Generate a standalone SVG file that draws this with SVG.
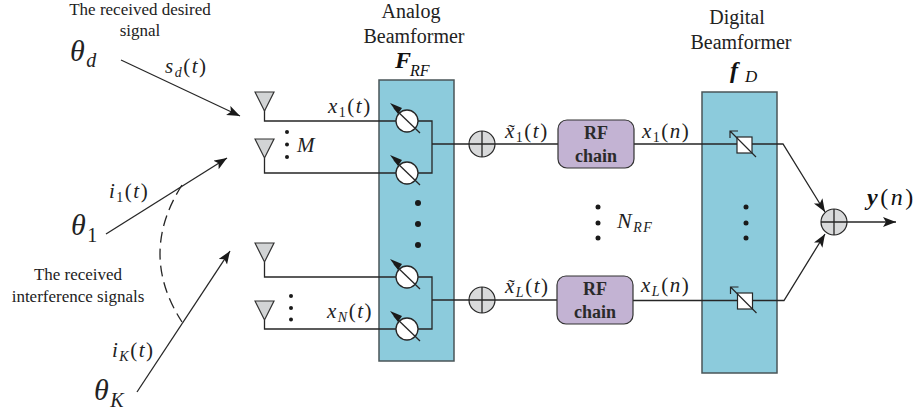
<svg xmlns="http://www.w3.org/2000/svg" width="915" height="413" viewBox="0 0 915 413">
<style>
.ln{fill:none;stroke:#262626;stroke-width:1.3}
.bf{fill:#8ccbdc;stroke:#4a5558;stroke-width:1.5}
.sum{fill:#d9dadb;stroke:#262626;stroke-width:1.2}
.ant{fill:#d2d4d5;stroke:#333;stroke-width:1.2}
.rf{fill:#c3b3d3;stroke:#333;stroke-width:1.2}
.dot{fill:#1a1a1a}
.cap{font-family:"Liberation Serif",serif;fill:#222}
.m{font-family:"Liberation Serif",serif;font-style:italic;fill:#222;letter-spacing:1.500px}
.r{font-style:normal}
.b{font-family:"Liberation Serif",serif;font-weight:bold;fill:#2a2a2a}
.bi{font-family:"Liberation Serif",serif;font-weight:bold;font-style:italic;fill:#111}
.n{font-weight:normal}
</style>
<defs>
<marker id="ah" markerWidth="16" markerHeight="12" refX="13" refY="5" orient="auto" markerUnits="userSpaceOnUse"><path d="M0 0L13 5L0 10L3 5Z" fill="#1a1a1a"/></marker>
<g id="ps"><circle r="11" fill="#fff" stroke="#262626" stroke-width="1.3"/><line x1="-13" y1="-13" x2="13" y2="12" stroke="#262626" stroke-width="1.3"/><path d="M-17 -18L-5 -13L-9 -7Z" fill="#1a1a1a"/></g>
<g id="dp"><rect x="-7.500" y="-8" width="15" height="16" fill="#fff" stroke="#262626" stroke-width="1.200"/><path d="M-14.500 -7V-14H-6.500M-14.500 -14L11.500 12" fill="none" stroke="#262626" stroke-width="1.200"/></g>
<g id="sumg"><circle r="13" class="sum"/><path d="M-13 0H13M0 -13V13" class="ln"/></g>
<path id="antg" d="M-9.500 0L0 19L9.500 0Z" class="ant"/>
</defs>

<g id="analog-beamformer"><rect x="379" y="80" width="75" height="281" class="bf"/></g>
<g id="digital-beamformer"><rect x="702" y="92" width="75" height="281" class="bf"/></g>

<g id="connectors">
<path class="ln" d="M264.500 110V121H405M264.500 158V173H405M264.500 262V277H405M264.500 320V329H405"/>
<path class="ln" d="M405 121H432V173H405M432 144H469"/>
<path class="ln" d="M405 277H432V329H405M432 300H469"/>
<path class="ln" d="M495 144H558M495 300H557"/>
<path class="ln" d="M634 144H702M633 300.500H702"/>
<path class="ln" d="M702 144H783L825 212" marker-end="url(#ah)"/>
<path class="ln" d="M702 300.500H784L825 234" marker-end="url(#ah)"/>
<path class="ln" d="M847 222H896" marker-end="url(#ah)"/>
<path class="ln" d="M121 60L240 116" marker-end="url(#ah)"/>
<path class="ln" d="M106 234L227 158" marker-end="url(#ah)"/>
<path class="ln" d="M137 392L230 251" marker-end="url(#ah)"/>
<path class="ln" stroke-dasharray="11 6" d="M182 185Q138 254 182 322"/>
</g>

<g id="antenna-1"><use href="#antg" x="264.500" y="92"/></g>
<g id="antenna-2"><use href="#antg" x="264.500" y="139"/></g>
<g id="antenna-3"><use href="#antg" x="264.500" y="243"/></g>
<g id="antenna-4"><use href="#antg" x="264.500" y="301"/></g>

<g id="ps-1"><use href="#ps" x="407" y="121"/></g>
<g id="ps-2"><use href="#ps" x="407" y="173"/></g>
<g id="ps-3"><use href="#ps" x="407" y="277"/></g>
<g id="ps-4"><use href="#ps" x="407" y="329"/></g>

<g id="sum-1"><use href="#sumg" x="482" y="144"/></g>
<g id="sum-2"><use href="#sumg" x="482" y="300"/></g>
<g id="sum-3"><use href="#sumg" x="834" y="222"/></g>

<g id="rf-chain-1"><rect x="558" y="120" width="76" height="48" rx="9" class="rf"/><text class="b" text-anchor="middle" font-size="18" x="596" y="139">RF</text><text class="b" text-anchor="middle" font-size="18" x="596" y="162">chain</text></g>
<g id="rf-chain-2"><rect x="557" y="276" width="76" height="48" rx="9" class="rf"/><text class="b" text-anchor="middle" font-size="18" x="595" y="295">RF</text><text class="b" text-anchor="middle" font-size="18" x="595" y="318">chain</text></g>

<g id="dp-1"><use href="#dp" x="744.500" y="145"/></g>
<g id="dp-2"><use href="#dp" x="745" y="301"/></g>

<g id="dots">
<circle class="dot" cx="287" cy="132" r="2"/><circle class="dot" cx="287" cy="144.500" r="2"/><circle class="dot" cx="287" cy="157" r="2"/>
<circle class="dot" cx="291" cy="296" r="2"/><circle class="dot" cx="291" cy="308" r="2"/><circle class="dot" cx="291" cy="319.500" r="2"/>
<circle class="dot" cx="418" cy="203" r="3"/><circle class="dot" cx="418" cy="224" r="3"/><circle class="dot" cx="418" cy="245" r="3"/>
<circle class="dot" cx="598" cy="207" r="2.500"/><circle class="dot" cx="598" cy="223" r="2.500"/><circle class="dot" cx="598" cy="238" r="2.500"/>
<circle class="dot" cx="746" cy="207" r="2.500"/><circle class="dot" cx="746" cy="223" r="2.500"/><circle class="dot" cx="746" cy="238" r="2.500"/>
</g>

<g id="labels">
<text class="cap" font-size="17" text-anchor="middle" x="140" y="15">The received desired</text>
<text class="cap" font-size="17" text-anchor="middle" x="140" y="36">signal</text>
<text class="cap" font-size="17" text-anchor="middle" x="78" y="280">The received</text>
<text class="cap" font-size="17" text-anchor="middle" x="78" y="302">interference signals</text>
<text class="cap" font-size="20" text-anchor="middle" x="411" y="18">Analog</text>
<text class="cap" font-size="20" text-anchor="middle" x="414" y="43">Beamformer</text>
<text class="cap" font-size="20" text-anchor="middle" x="737" y="24">Digital</text>
<text class="cap" font-size="20" text-anchor="middle" x="741" y="49">Beamformer</text>

<text class="m" font-size="30" x="70" y="61">θ<tspan font-size="20" dy="6">d</tspan></text>
<text class="m" font-size="30" x="71" y="235">θ<tspan class="r" font-size="20" dy="7">1</tspan></text>
<text class="m" font-size="30" x="94" y="400">θ<tspan font-size="20" dy="7">K</tspan></text>

<text class="m" font-size="21" x="165" y="73">s<tspan font-size="14" dy="4">d</tspan><tspan class="r" dy="-4">(</tspan>t<tspan class="r">)</tspan></text>
<text class="m" font-size="21" x="109" y="198">i<tspan class="r" font-size="14" dy="4">1</tspan><tspan class="r" dy="-4">(</tspan>t<tspan class="r">)</tspan></text>
<text class="m" font-size="21" x="112" y="357">i<tspan font-size="14" dy="4">K</tspan><tspan class="r" dy="-4">(</tspan>t<tspan class="r">)</tspan></text>
<text class="m" font-size="21" x="328" y="113">x<tspan class="r" font-size="14" dy="4">1</tspan><tspan class="r" dy="-4">(</tspan>t<tspan class="r">)</tspan></text>
<text class="m" font-size="21" x="327" y="318">x<tspan font-size="14" dy="4">N</tspan><tspan class="r" dy="-4">(</tspan>t<tspan class="r">)</tspan></text>
<text class="m" font-size="21" x="297" y="152">M</text>
<text class="m" font-size="21" x="505" y="138">x̃<tspan class="r" font-size="14" dy="4">1</tspan><tspan class="r" dy="-4">(</tspan>t<tspan class="r">)</tspan></text>
<text class="m" font-size="21" x="505" y="293">x̃<tspan font-size="14" dy="4">L</tspan><tspan class="r" dy="-4">(</tspan>t<tspan class="r">)</tspan></text>
<text class="m" font-size="21" x="642" y="138">x<tspan class="r" font-size="14" dy="4">1</tspan><tspan class="r" dy="-4">(</tspan>n<tspan class="r">)</tspan></text>
<text class="m" font-size="21" x="641" y="292">x<tspan font-size="14" dy="4">L</tspan><tspan class="r" dy="-4">(</tspan>n<tspan class="r">)</tspan></text>
<text class="m" font-size="22" x="617" y="228">N<tspan font-size="14" dy="4">RF</tspan></text>
<text class="bi" font-size="24" x="395" y="68">F<tspan class="n" font-size="16" x="410" dy="8">RF</tspan></text>
<text class="bi" font-size="24" x="730" y="78">f<tspan class="n" font-size="17" x="745" dy="4">D</tspan></text>
<text class="bi" font-size="24" x="867" y="205" letter-spacing="2.500">y<tspan class="r n" font-size="24">(</tspan><tspan class="n" font-size="24">n</tspan><tspan class="r n" font-size="24">)</tspan></text>
</g>
</svg>
